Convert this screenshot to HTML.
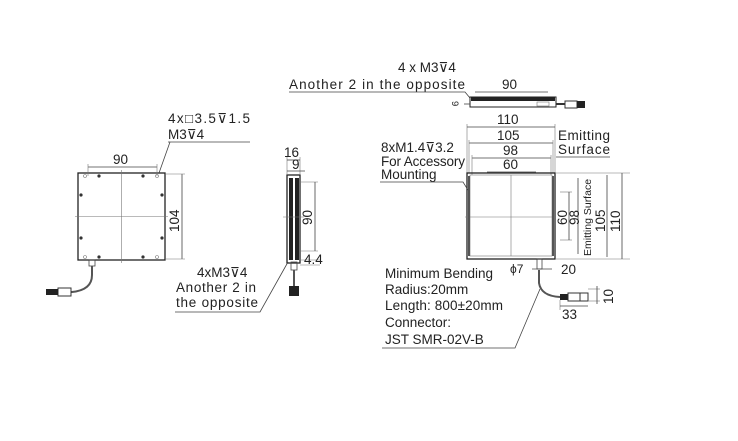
<!DOCTYPE html>
<html><head><meta charset="utf-8"><style>
html,body{margin:0;padding:0;background:#fff}
svg{display:block}
text{font-family:"Liberation Sans","DejaVu Sans",sans-serif;font-size:13.5px;fill:#222}
.l{stroke:#444;stroke-width:0.8;fill:none}
.t{stroke:#222;stroke-width:1.3;fill:none}
.th{stroke:#777;stroke-width:0.6;fill:none}
</style></head><body>
<svg width="738" height="441" viewBox="0 0 738 441" xmlns="http://www.w3.org/2000/svg">
<!-- LEFT FRONT VIEW -->
<rect x="78" y="173" width="87" height="87" class="t"/>
<line x1="121.5" y1="170" x2="121.5" y2="263" class="th"/>
<line x1="75" y1="216.5" x2="168" y2="216.5" class="th"/>
<g fill="#333">
<circle cx="99" cy="176" r="1.6"/><circle cx="143" cy="176" r="1.6"/><circle cx="99" cy="257" r="1.6"/><circle cx="143" cy="257" r="1.6"/>
<circle cx="81" cy="195" r="1.6"/><circle cx="81" cy="238" r="1.6"/><circle cx="162" cy="195" r="1.6"/><circle cx="162" cy="238" r="1.6"/>
</g>
<g class="th"><circle cx="85" cy="176" r="1.5"/><circle cx="157" cy="176" r="1.5"/><circle cx="85" cy="257" r="1.5"/><circle cx="157" cy="257" r="1.5"/></g>
<line x1="88" y1="167" x2="157" y2="167" class="l"/>
<line x1="88" y1="164" x2="88" y2="176" class="th"/><line x1="157" y1="164" x2="157" y2="176" class="th"/>
<text x="113" y="164">90</text>
<line x1="182" y1="174" x2="182" y2="259" class="l"/>
<line x1="166" y1="174" x2="185" y2="174" class="th"/><line x1="166" y1="259" x2="185" y2="259" class="th"/>
<text x="0" y="0" transform="translate(179,232) rotate(-90)">104</text>
<text x="168" y="123" textLength="82">4x□3.5⊽1.5</text>
<text x="168" y="139">M3⊽4</text>
<polyline points="168,142 250,142" class="l"/>
<line x1="170" y1="142" x2="159" y2="173" class="l"/>
<!-- cable -->
<rect x="89" y="260" width="6" height="6" class="l"/>
<path d="M92,266 L92,275 Q92,290 72,292 L70,292" stroke="#555" stroke-width="2" fill="none"/>
<rect x="58" y="288" width="13" height="8" fill="#fff" stroke="#333"/>
<rect x="46" y="289" width="12" height="6" fill="#222"/>
<!-- SIDE VIEW -->
<rect x="287" y="175" width="13" height="88" class="t"/>
<rect x="289" y="178" width="4" height="82" fill="#222"/>
<rect x="295" y="178" width="4" height="82" fill="#222"/>
<line x1="283" y1="217" x2="304" y2="217" class="th"/>
<line x1="287" y1="157" x2="287" y2="175" class="th"/><line x1="300" y1="157" x2="300" y2="175" class="th"/>
<line x1="287" y1="160" x2="300" y2="160" class="l"/>
<line x1="287" y1="171" x2="305" y2="171" class="l"/>
<text x="284" y="157">16</text>
<text x="292" y="169">9</text>
<line x1="300" y1="182" x2="318" y2="182" class="th"/><line x1="300" y1="251" x2="318" y2="251" class="th"/>
<line x1="315" y1="182" x2="315" y2="251" class="l"/>
<text x="0" y="0" transform="translate(312,225) rotate(-90)">90</text>
<line x1="300" y1="260" x2="320" y2="260" class="th"/><line x1="300" y1="265" x2="320" y2="265" class="th"/>
<text x="304" y="264">4.4</text>
<rect x="291" y="262" width="6" height="8" class="l"/>
<line x1="294" y1="270" x2="294" y2="287" stroke="#555" stroke-width="2"/>
<rect x="289" y="286" width="10" height="10" fill="#222"/>
<text x="197" y="277">4xM3⊽4</text>
<text x="176" y="292" textLength="80">Another 2 in</text>
<text x="176" y="307" textLength="82">the opposite</text>
<polyline points="175,312 260,312 288,262" class="l"/>
<!-- TOP VIEW -->
<text x="398" y="72">4 x M3⊽4</text>
<text x="289" y="89" textLength="176">Another 2 in the opposite</text>
<polyline points="289,92 465,92 470,98" class="l"/>
<line x1="475" y1="92" x2="548" y2="92" class="l"/>
<text x="502" y="89">90</text>
<rect x="470" y="97" width="86" height="10" fill="#fff" stroke="#222"/>
<rect x="471" y="97" width="84" height="4" fill="#222"/>
<rect x="537" y="102" width="12" height="4" class="th"/>
<line x1="464" y1="104" x2="470" y2="104" class="l"/>
<text x="0" y="0" transform="translate(452,101) rotate(90) scale(0.7)">9</text>
<line x1="556" y1="104" x2="565" y2="104" stroke="#333" stroke-width="2"/>
<rect x="565" y="101" width="12" height="7" fill="#fff" stroke="#333"/>
<rect x="577" y="101" width="8" height="7" fill="#222"/>
<!-- MAIN FRONT VIEW -->
<line x1="467" y1="124" x2="467" y2="258" class="th"/>
<line x1="555" y1="124" x2="555" y2="258" class="th"/>
<line x1="467" y1="127" x2="555" y2="127" class="l"/>
<text x="497" y="124">110</text>
<line x1="469" y1="143" x2="553" y2="143" class="l"/>
<line x1="469" y1="140" x2="469" y2="173" class="th"/><line x1="553" y1="140" x2="553" y2="173" class="th"/>
<text x="497" y="140">105</text>
<line x1="472" y1="158" x2="551" y2="158" class="l"/>
<line x1="472" y1="155" x2="472" y2="175" class="th"/><line x1="551" y1="155" x2="551" y2="175" class="th"/>
<text x="503" y="155">98</text>
<line x1="487" y1="172" x2="536" y2="172" class="l"/>
<text x="503" y="169">60</text>
<text x="558" y="140" textLength="52">Emitting</text>
<text x="558" y="154" textLength="52">Surface</text>
<line x1="556" y1="157" x2="610" y2="157" class="l"/>
<rect x="467" y="173" width="88" height="86" class="t"/>
<rect x="470" y="175" width="82" height="81" class="th"/>
<line x1="511" y1="175" x2="511" y2="256" class="th"/>
<line x1="465" y1="217" x2="556" y2="217" class="th"/>
<line x1="469" y1="176" x2="469" y2="256" stroke="#555" stroke-width="2"/>
<line x1="553" y1="176" x2="553" y2="256" stroke="#555" stroke-width="2"/>
<text x="381" y="152">8xM1.4⊽3.2</text>
<text x="381" y="166" textLength="84">For Accessory</text>
<text x="381" y="179">Mounting</text>
<polyline points="380,182 463,182 468,190" class="l"/>
<line x1="555" y1="173" x2="630" y2="173" class="th"/>
<line x1="555" y1="259" x2="630" y2="259" class="th"/>
<line x1="560" y1="192" x2="572" y2="192" class="th"/><line x1="560" y1="240" x2="572" y2="240" class="th"/>
<line x1="569" y1="192" x2="569" y2="240" class="l"/>
<line x1="578" y1="178" x2="578" y2="254" class="l"/>
<line x1="607" y1="175" x2="607" y2="257" class="l"/>
<line x1="622" y1="173" x2="622" y2="259" class="l"/>
<text x="0" y="0" transform="translate(567,225) rotate(-90)">60</text>
<text x="0" y="0" transform="translate(579,225) rotate(-90)">98</text>
<text x="0" y="0" transform="translate(591,256) rotate(-90)" style="font-size:10.5px">Emitting Surface</text>
<text x="0" y="0" transform="translate(605,232) rotate(-90)">105</text>
<text x="0" y="0" transform="translate(620,232) rotate(-90)">110</text>
<!-- bottom cable -->
<line x1="532" y1="269" x2="552" y2="269" class="l"/>
<rect x="537" y="259" width="5" height="10" class="l"/>
<text x="510" y="273" style="font-size:12px">ϕ7</text>
<text x="561" y="274">20</text>
<path d="M539,270 L539,283 Q541,296 560,297" stroke="#555" stroke-width="2" fill="none"/>
<rect x="560" y="294" width="8" height="6" fill="#222"/>
<rect x="568" y="293" width="12" height="8" fill="#fff" stroke="#333"/>
<rect x="580" y="293" width="8" height="8" fill="#fff" stroke="#333"/>
<line x1="588" y1="289" x2="600" y2="289" class="th"/><line x1="588" y1="301" x2="600" y2="301" class="th"/>
<line x1="597" y1="286" x2="597" y2="304" class="l"/>
<text x="0" y="0" transform="translate(613,304) rotate(-90)">10</text>
<line x1="560" y1="300" x2="560" y2="310" class="th"/>
<line x1="560" y1="306" x2="588" y2="306" class="l"/>
<text x="562" y="319">33</text>
<text x="385" y="278" textLength="108">Minimum Bending</text>
<text x="385" y="294">Radius:20mm</text>
<text x="385" y="310" textLength="118">Length: 800±20mm</text>
<text x="385" y="327">Connector:</text>
<text x="385" y="344">JST SMR-02V-B</text>
<polyline points="382,348 515,348 540,289" class="l"/>
</svg>
</body></html>
